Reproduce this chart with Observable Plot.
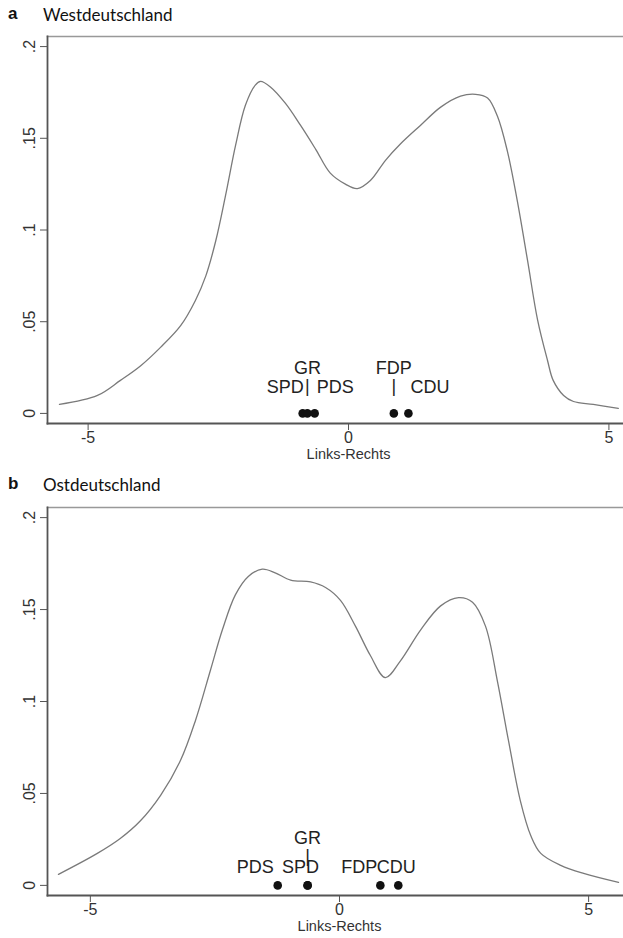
<!DOCTYPE html>
<html><head><meta charset="utf-8">
<script src="https://cdn.jsdelivr.net/npm/d3@7"></script>
<script src="https://cdn.jsdelivr.net/npm/@observablehq/plot@0.6"></script>
<style>
body{margin:0;background:#fff;width:623px;height:938px;overflow:hidden;font-family:"Liberation Sans",Arial,sans-serif;}
.title{position:relative;}
.title span{position:absolute;top:50%;transform:translateY(-50%);white-space:nowrap;color:#111;}
.title .l{left:8px;font-weight:bold;font-size:17px;font-family:"Liberation Sans",Arial,sans-serif;}
.title .t{left:43px;font-size:17px;font-family:Lato,"Noto Sans",sans-serif;}
svg{display:block;}
</style>
</head><body>
<div id="root"></div>
<script>
// ---- data ----
const panelLetters = ["a", "b"];
const panelTitles = ["Westdeutschland", "Ostdeutschland"];
const xLabel = "Links-Rechts";
const xTicks = [-5, 0, 5];
const yTicks = [0, 0.05, 0.1, 0.15, 0.2];
const yTickLabels = ["0", ".05", ".1", ".15", ".2"];

const westX = [-5.55,-4.82,-4.38,-3.99,-3.61,-3.22,-2.94,-2.74,-2.55,-2.36,-2.17,-1.98,-1.79,-1.69,-1.50,-1.21,-0.92,-0.63,-0.35,-0.06,0.17,0.42,0.71,1.0,1.38,1.77,2.15,2.44,2.67,2.86,3.05,3.24,3.44,3.63,3.82,3.93,4.13,4.32,4.70,5.18];
const westY = [0.0049,0.0098,0.018,0.026,0.036,0.048,0.0616,0.075,0.094,0.119,0.146,0.168,0.179,0.181,0.178,0.169,0.157,0.144,0.131,0.125,0.1226,0.127,0.138,0.147,0.157,0.167,0.173,0.174,0.172,0.162,0.143,0.116,0.083,0.051,0.029,0.018,0.0098,0.0065,0.0049,0.0027];

const ostX = [-5.64,-4.86,-4.40,-4.0,-3.59,-3.19,-2.89,-2.59,-2.35,-2.09,-1.83,-1.55,-1.29,-0.98,-0.58,-0.28,0.02,0.32,0.62,0.92,1.22,1.63,2.03,2.39,2.67,2.93,3.17,3.39,3.63,3.84,4.04,4.44,4.90,5.60];
const ostY = [0.006,0.0174,0.0255,0.035,0.049,0.068,0.0897,0.117,0.139,0.158,0.168,0.172,0.170,0.166,0.165,0.162,0.155,0.141,0.125,0.113,0.122,0.139,0.152,0.1565,0.154,0.141,0.111,0.079,0.046,0.027,0.0174,0.0109,0.0065,0.0016];

const parties = ["SPD", "GR", "PDS", "FDP", "CDU"];
const westParty = [-0.88, -0.79, -0.65, 0.87, 1.15];
const ostParty = [-0.64, -0.64, -1.24, 0.82, 1.18];

// ---- layout / style (not data) ----
const westLabelPos = {
  SPD: {anchor: "end", dx: 1, dy: -26},
  GR: {anchor: "middle", dx: 0, dy: -36, stem: true},
  PDS: {anchor: "start", dx: 2, dy: -26},
  FDP: {anchor: "middle", dx: 0, dy: -36, stem: true},
  CDU: {anchor: "start", dx: 2, dy: -26}
};
const ostLabelPos = {
  SPD: {anchor: "middle", dx: -7, dy: -18},
  GR: {anchor: "middle", dx: 0, dy: -38, stem: true},
  PDS: {anchor: "end", dx: -4, dy: -18},
  FDP: {anchor: "end", dx: -3, dy: -18},
  CDU: {anchor: "middle", dx: -2, dy: -18}
};
const panels = [
  {xs: westX, ys: westY, px: westParty, pos: westLabelPos, xDomain: [-5.78, 5.28], height: 442, mt: 8, mb: 47, titleH: 28},
  {xs: ostX, ys: ostY, px: ostParty, pos: ostLabelPos, xDomain: [-5.86, 5.70], height: 441, mt: 10, mb: 43, titleH: 27}
];
const yDomain = [-0.0055, 0.2055];
const axisColor = "#555";
const font = "'Liberation Sans', Arial, sans-serif";

const root = document.getElementById("root");
panels.forEach((p, i) => {
  const t = document.createElement("div");
  t.className = "title";
  t.style.height = p.titleH + "px";
  t.innerHTML = `<span class="l">${panelLetters[i]}</span><span class="t">${panelTitles[i]}</span>`;
  root.appendChild(t);

  const curve = p.xs.map((x, k) => ({x, y: p.ys[k]}));
  const pts = parties.map((name, k) => ({name, x: p.px[k], y: 0}));
  const labelMarks = pts.map(d => {
    const c = p.pos[d.name];
    const label = c.stem ? d.name + "\n|" : d.name;
    return Plot.text([d], {
      x: "x", y: "y",
      text: () => label,
      textAnchor: c.anchor, dx: c.dx, dy: c.dy,
      lineHeight: 1, fontSize: 18, fill: "#222"
    });
  });

  const chart = Plot.plot({
    width: 623, height: p.height,
    marginLeft: 47, marginRight: 0, marginTop: p.mt, marginBottom: p.mb,
    style: {fontFamily: font, fontSize: "16px", color: "#333", background: "#fff"},
    x: {domain: p.xDomain},
    y: {domain: yDomain},
    marks: [
      Plot.frame({anchor: "top", stroke: "#999", strokeWidth: 1.5}),
      Plot.axisX({ticks: xTicks, tickSize: 7, tickPadding: 1, tickFormat: d => String(d), label: null, stroke: axisColor, fontSize: 16, fill: "#333"}),
      Plot.axisY({ticks: yTicks, tickSize: 7, tickPadding: 6, tickRotate: -90, tickFormat: (d) => yTickLabels[yTicks.indexOf(d)], label: null, stroke: axisColor, fontSize: 16, fill: "#333"}),
      Plot.frame({anchor: "left", stroke: axisColor, strokeWidth: 1.8}),
      Plot.frame({anchor: "bottom", stroke: axisColor, strokeWidth: 1.8}),
      Plot.text([xLabel], {x: () => 0, frameAnchor: "bottom", dy: 35, text: d => d, fontSize: 14.5, fill: "#333"}),
      Plot.line(curve, {x: "x", y: "y", stroke: "#7a7a7a", strokeWidth: 1.3, curve: "catmull-rom"}),
      Plot.dot(pts, {x: "x", y: "y", r: 4.3, fill: "#111", stroke: "none"}),
      ...labelMarks
    ]
  });
  root.appendChild(chart);
});
</script>
</body></html>
